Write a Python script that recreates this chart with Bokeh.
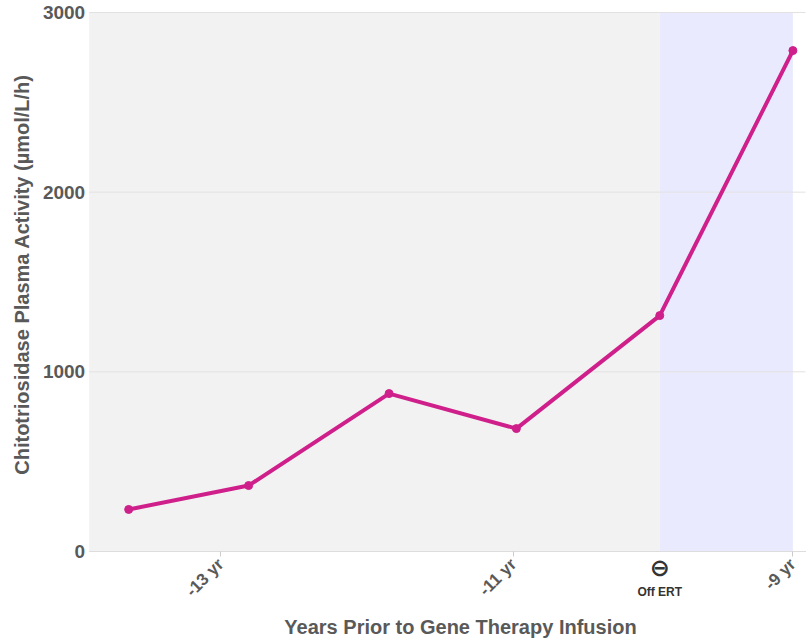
import math
from bokeh.plotting import figure
from bokeh.models import BoxAnnotation, FixedTicker, LinearAxis, Label
from bokeh.embed import file_html
from bokeh.resources import INLINE

years = [-13.63, -12.81, -11.85, -10.98, -10.0, -9.09]
activity = [234, 367, 879, 684, 1313, 2788]
tick_pos = [-13, -11, -9.09]
tick_labels = ["-13 yr", "-11 yr", "-9 yr"]
y_ticks = [0, 1000, 2000, 3000]
off_ert_year = -10.0
off_ert_symbol = "⊖"
off_ert_text = "Off ERT"
x_title = "Years Prior to Gene Therapy Infusion"
y_title = "Chitotriosidase Plasma Activity (µmol/L/h)"

TXT = "#595959"
FONT = "Liberation Sans"

# layout: the frame covers the whole canvas so that every text below/left of the data area can be drawn
W, H = 806, 643
X0, X1 = -14.506, -8.997          # data x at canvas left / right edge
Y0, Y1 = -512.1, 3066.8           # data y at canvas bottom / top edge
PLOT_LEFT = -13.9                 # left edge of the shaded plotting area
px_x = (X1 - X0) / W
px_y = (Y1 - Y0) / H

p = figure(frame_width=W, frame_height=H, output_backend="svg", toolbar_location=None,
           x_range=(X0, X1), y_range=(Y0, Y1),
           x_axis_location=None, y_axis_location=None,
           min_border=0, min_border_left=0, min_border_right=0, min_border_top=0, min_border_bottom=0)
p.outline_line_color = None
p.background_fill_color = "white"
p.border_fill_color = "white"
p.xgrid.visible = False
p.ygrid.visible = False

p.add_layout(BoxAnnotation(left=PLOT_LEFT, right=off_ert_year, bottom=y_ticks[0], top=y_ticks[-1],
                           fill_color="#f2f2f2", fill_alpha=1, line_color=None, level="image"))
p.add_layout(BoxAnnotation(left=off_ert_year, right=years[-1], bottom=y_ticks[0], top=y_ticks[-1],
                           fill_color="#e9eafd", fill_alpha=1, line_color=None, level="image"))

# horizontal grid lines at the y ticks
p.segment(x0=[PLOT_LEFT] * len(y_ticks), x1=[X1 - px_x] * len(y_ticks), y0=y_ticks, y1=y_ticks,
          line_color="#e2e2e2", line_width=1, level="underlay")

p.line(years, activity, line_color="#cf1f8b", line_width=4)
p.scatter(years, activity, size=8, fill_color="#cf1f8b", line_color="#cf1f8b")

yax = LinearAxis(ticker=FixedTicker(ticks=y_ticks), fixed_location=PLOT_LEFT, bounds=(0, 3000),
                 axis_line_color=None, major_tick_line_color=None, minor_tick_line_color=None,
                 major_tick_in=0, major_tick_out=0, major_label_standoff=4,
                 major_label_text_font=FONT, major_label_text_font_style="bold",
                 major_label_text_font_size="19px", major_label_text_color=TXT)
p.add_layout(yax, "left")

xax = LinearAxis(ticker=FixedTicker(ticks=tick_pos), fixed_location=0, bounds=(PLOT_LEFT, X1),
                 major_label_overrides={t: l for t, l in zip(tick_pos, tick_labels)},
                 major_label_orientation=math.pi / 4,
                 axis_line_color="#dddddd", major_tick_line_color="#cccccc", minor_tick_line_color=None,
                 major_tick_in=0, major_tick_out=5,
                 major_label_text_font=FONT, major_label_text_font_style="bold",
                 major_label_text_font_size="17px", major_label_text_color=TXT)
p.add_layout(xax, "below")

# axis titles
p.add_layout(Label(x=X0 + 460 * px_x, y=Y1 - 626 * px_y, text=x_title, text_font=FONT,
                   text_font_style="bold", text_font_size="20px", text_color=TXT,
                   text_align="center", text_baseline="middle"))
p.add_layout(Label(x=X0 + 21 * px_x, y=Y1 - 274 * px_y, text=y_title, angle=math.pi / 2,
                   text_font=FONT, text_font_style="bold", text_font_size="20px", text_color=TXT,
                   text_align="center", text_baseline="middle"))

# "Off ERT" marker below the axis
p.add_layout(Label(x=off_ert_year, y=Y1 - 567 * px_y, text=off_ert_symbol, text_font="DejaVu Sans",
                   text_font_style="bold", text_font_size="24px", text_color="#333333",
                   text_align="center", text_baseline="middle"))
p.add_layout(Label(x=off_ert_year, y=Y1 - 591 * px_y, text=off_ert_text, text_font=FONT,
                   text_font_style="bold", text_font_size="12px", text_color="#333333",
                   text_align="center", text_baseline="middle"))

open("out.html", "w").write(file_html(p, INLINE))
